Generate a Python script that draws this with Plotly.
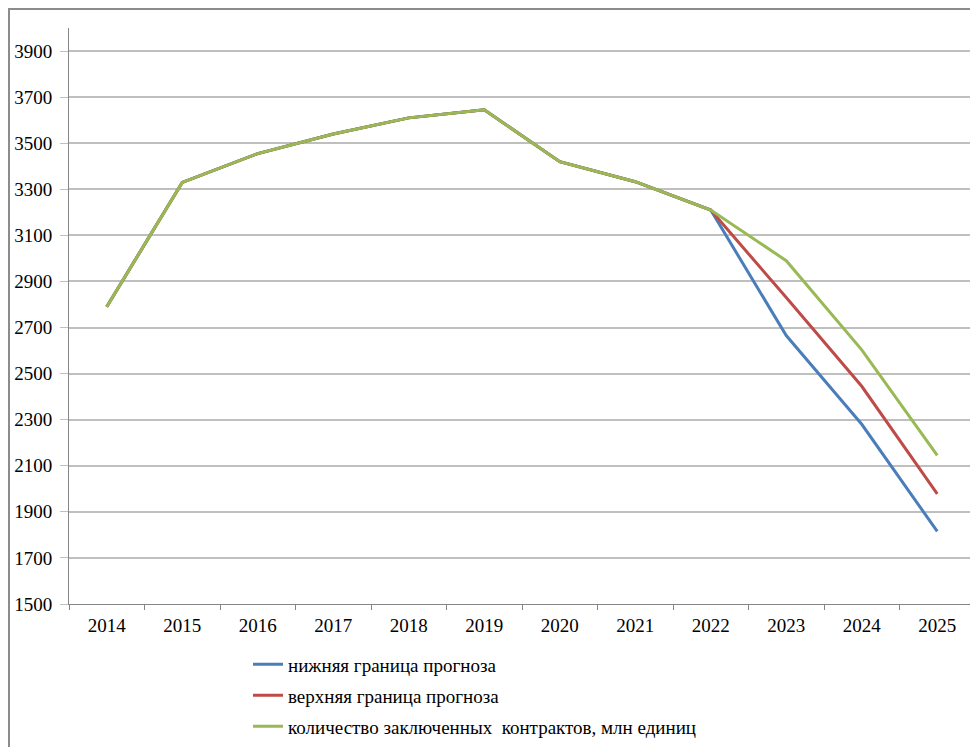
import plotly.graph_objects as go

years = ["2014", "2015", "2016", "2017", "2018", "2019", "2020", "2021", "2022", "2023", "2024", "2025"]
lower = [2790, 3330, 3455, 3540, 3610, 3645, 3420, 3333, 3210, 2665, 2280, 1815]
upper = [2790, 3330, 3455, 3540, 3610, 3645, 3420, 3333, 3210, 2830, 2445, 1978]
contracts = [2790, 3330, 3455, 3540, 3610, 3645, 3420, 3333, 3210, 2990, 2603, 2145]
names = ["нижняя граница прогноза", "верхняя граница прогноза",
         "количество заключенных  контрактов, млн единиц"]
yticks = [1500, 1700, 1900, 2100, 2300, 2500, 2700, 2900, 3100, 3300, 3500, 3700, 3900]

font_family = "Liberation Serif"
FS = 19

# page has an 8px body margin; figure sized to fit the window
W, H = 970, 739
ml, mr, mt, mb = 61, 3, 20, 142.5
pw, ph = W - ml - mr, H - mt - mb

def py(v):
    return (mt + ph - v) / ph

def px(v):
    return (v - ml) / pw

fig = go.Figure()
legend_y = [657, 688, 719]
for vals, name, color, lk in [(lower, names[0], "#4a7ebb", "legend"),
                              (upper, names[1], "#be4b48", "legend2"),
                              (contracts, names[2], "#98b954", "legend3")]:
    fig.add_trace(go.Scatter(x=years, y=vals, name=name, mode="lines",
                             line=dict(color=color, width=3), legend=lk))

legend_common = dict(orientation="v", xanchor="left", yanchor="middle",
                     bgcolor="rgba(0,0,0,0)", borderwidth=0,
                     font=dict(family=font_family, size=FS, color="#000000"),
                     itemwidth=30)

fig.update_layout(
    width=W, height=H,
    margin=dict(l=ml, r=mr, t=mt, b=mb, pad=0, autoexpand=False),
    paper_bgcolor="white", plot_bgcolor="white",
    font=dict(family=font_family, size=FS, color="#000000"),
    showlegend=True,
    legend=dict(legend_common, x=px(240), y=py(legend_y[0])),
    legend2=dict(legend_common, x=px(240), y=py(legend_y[1])),
    legend3=dict(legend_common, x=px(240), y=py(legend_y[2])),
    xaxis=dict(type="category", showgrid=False, showline=True, linecolor="#868686",
               linewidth=1, ticks="outside", tickson="boundaries", ticklen=5,
               tickcolor="#868686", tickfont=dict(family=font_family, size=FS), zeroline=False,
               ticklabelstandoff=4, range=[-0.5, 11.5], automargin=False),
    yaxis=dict(range=[1500, 4000], tickvals=yticks, ticktext=[str(v) for v in yticks],
               showgrid=True, gridcolor="#bfbfbf", gridwidth=1.5,
               showline=True, linecolor="#868686", linewidth=1,
               ticks="outside", ticklen=8, tickcolor="#bfbfbf",
               ticklabelstandoff=4, zeroline=False, tickfont=dict(family=font_family, size=FS),
               automargin=False),
    shapes=[dict(type="rect", xref="paper", yref="paper",
                 x0=px(1), x1=1.2, y0=-0.5, y1=py(1),
                 line=dict(color="#8c8c8c", width=2), fillcolor="rgba(0,0,0,0)",
                 layer="below")],
)

fig.write_html("out.html")
